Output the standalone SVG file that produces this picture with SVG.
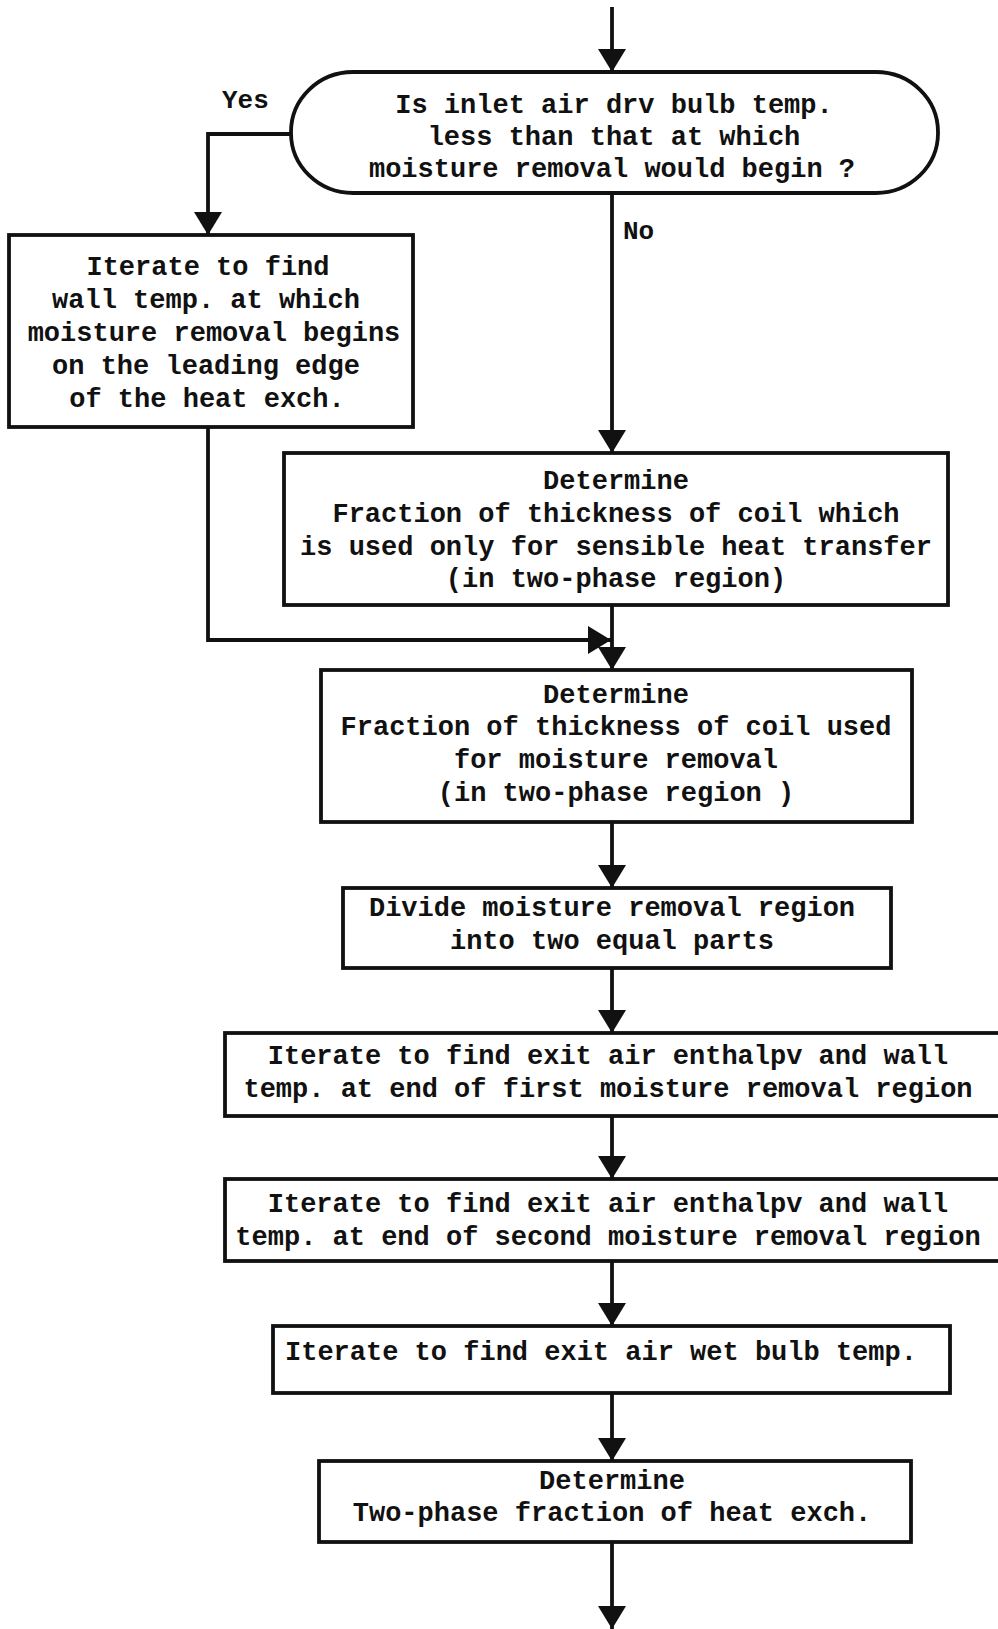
<svg xmlns="http://www.w3.org/2000/svg" width="998" height="1629" viewBox="0 0 998 1629">
  <style>
    .box { fill: #ffffff; stroke: #111111; stroke-width: 3.8; }
    .line { fill: none; stroke: #111111; stroke-width: 3.8; }
    .t { font-family: "Liberation Mono", "DejaVu Sans Mono", monospace; font-weight: bold; font-size: 27px; letter-spacing: 0px; fill: #111111; text-anchor: middle; }
    .lbl { font-family: "Liberation Mono", "DejaVu Sans Mono", monospace; font-weight: bold; font-size: 26px; fill: #111111; }
  </style>
  <defs>
    <marker id="arrow" markerUnits="userSpaceOnUse" markerWidth="26" markerHeight="30" refX="23" refY="14" orient="auto">
      <path d="M0,0 L23,14 L0,28 Z" fill="#111111"/>
    </marker>
  </defs>
  <rect width="998" height="1629" fill="#ffffff"/>

  <!-- connectors -->
  <g id="connectors">
    <path class="line" d="M612,7 V72" marker-end="url(#arrow)"/>
    <path class="line" d="M291,134 H208 V235" marker-end="url(#arrow)"/>
    <path class="line" d="M612,193 V453" marker-end="url(#arrow)"/>
    <path class="line" d="M208,427 V640 H611" marker-end="url(#arrow)"/>
    <path class="line" d="M612,605 V670" marker-end="url(#arrow)"/>
    <path class="line" d="M612,822 V888" marker-end="url(#arrow)"/>
    <path class="line" d="M612,968 V1033" marker-end="url(#arrow)"/>
    <path class="line" d="M612,1116 V1179" marker-end="url(#arrow)"/>
    <path class="line" d="M612,1261 V1326" marker-end="url(#arrow)"/>
    <path class="line" d="M612,1393 V1461" marker-end="url(#arrow)"/>
    <path class="line" d="M612,1542 V1629" marker-end="url(#arrow)"/>
    <text class="lbl" x="222" y="108">Yes</text>
    <text class="lbl" x="623" y="239">No</text>
  </g>

  <!-- decision -->
  <g id="decision">
    <rect class="box" x="291" y="72" width="647" height="121" rx="62" ry="60"/>
    <text class="t" x="614" y="113">Is inlet air drv bulb temp.</text>
    <text class="t" x="614" y="145">less than that at which</text>
    <text class="t" x="612" y="177">moisture removal would begin ?</text>
  </g>

  <g id="wall-temp">
    <rect class="box" x="9" y="235" width="404" height="192"/>
    <text class="t" x="208" y="275">Iterate to find</text>
    <text class="t" x="206" y="308">wall temp. at which</text>
    <text class="t" x="214" y="341">moisture removal begins</text>
    <text class="t" x="206" y="374">on the leading edge</text>
    <text class="t" x="207" y="407">of the heat exch.</text>
  </g>

  <g id="sensible-fraction">
    <rect class="box" x="284" y="453" width="664" height="152"/>
    <text class="t" x="616" y="489">Determine</text>
    <text class="t" x="616" y="522">Fraction of thickness of coil which</text>
    <text class="t" x="616" y="555">is used only for sensible heat transfer</text>
    <text class="t" x="616" y="587">(in two-phase region)</text>
  </g>

  <g id="moisture-fraction">
    <rect class="box" x="321" y="670" width="591" height="152"/>
    <text class="t" x="616" y="703">Determine</text>
    <text class="t" x="616" y="735">Fraction of thickness of coil used</text>
    <text class="t" x="616" y="768">for moisture removal</text>
    <text class="t" x="616" y="801">(in two-phase region )</text>
  </g>

  <g id="divide">
    <rect class="box" x="343" y="888" width="548" height="80"/>
    <text class="t" x="612" y="916">Divide moisture removal region</text>
    <text class="t" x="612" y="949">into two equal parts</text>
  </g>

  <g id="first-region">
    <rect class="box" x="225" y="1033" width="790" height="83"/>
    <text class="t" x="608" y="1064">Iterate to find exit air enthalpv and wall</text>
    <text class="t" x="608" y="1097">temp. at end of first moisture removal region</text>
  </g>

  <g id="second-region">
    <rect class="box" x="225" y="1179" width="790" height="82"/>
    <text class="t" x="608" y="1212">Iterate to find exit air enthalpv and wall</text>
    <text class="t" x="608" y="1245">temp. at end of second moisture removal region</text>
  </g>

  <g id="wet-bulb">
    <rect class="box" x="273" y="1326" width="677" height="67"/>
    <text class="t" x="285" y="1360" style="text-anchor:start">Iterate to find exit air wet bulb temp.</text>
  </g>

  <g id="two-phase">
    <rect class="box" x="319" y="1461" width="592" height="81"/>
    <text class="t" x="612" y="1489">Determine</text>
    <text class="t" x="612" y="1521">Two-phase fraction of heat exch.</text>
  </g>
</svg>
